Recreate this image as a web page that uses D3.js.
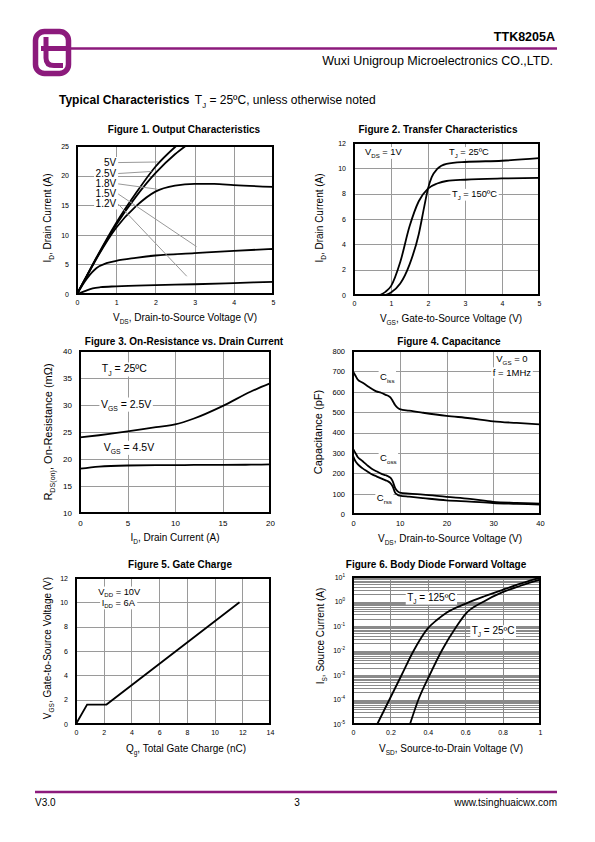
<!DOCTYPE html>
<html><head><meta charset="utf-8">
<script src="https://cdn.jsdelivr.net/npm/d3@7"></script>
<style>body{margin:0;background:#fff}svg{display:block}</style>
</head><body>
<script>
// ---------------- DATA ----------------
const fig1Series = ["5V","2.5V","1.8V","1.5V","1.2V"];
const fig1_5V  = [[0,0],[0.25,3.1],[0.5,6.2],[1,12],[1.5,17],[2,21.5],[2.53,25]];
const fig1_2V5 = [[0,0],[0.25,3.05],[0.5,6.1],[1,11.7],[1.5,16.4],[2,20.4],[2.5,23.6],[2.77,25]];
const fig1_1V8 = [[0,0],[0.25,3],[0.5,6],[1,11.2],[1.5,14.8],[2,17.3],[2.5,18.3],[3,18.6],[3.5,18.6],[4,18.4],[5,18.1]];
const fig1_1V5 = [[0,0],[0.25,2.6],[0.5,4.4],[0.75,5.2],[1,5.6],[1.5,6.1],[2,6.5],[3,6.9],[4,7.3],[5,7.6]];
const fig1_1V2 = [[0,0],[0.2,0.5],[0.4,0.95],[0.6,1.15],[1,1.3],[2,1.5],[3,1.65],[4,1.85],[5,2.05]];
const fig1XTicks = [0,1,2,3,4,5];
const fig1YTicks = [0,5,10,15,20,25];

const fig2_25C  = [[0.85,0],[1,0.2],[1.25,0.9],[1.5,2.4],[1.75,4.8],[1.9,7],[2,8.4],[2.1,9.3],[2.25,9.95],[2.5,10.35],[3,10.5],[4,10.6],[5,10.8]];
const fig2_150C = [[0.7,0],[0.85,0.25],[1,0.7],[1.25,2.6],[1.5,5.4],[1.75,7.4],[2,8.4],[2.25,8.8],[2.5,9.0],[3,9.1],[4,9.2],[5,9.25]];
const fig2XTicks = [0,1,2,3,4,5];
const fig2YTicks = [0,2,4,6,8,10,12];

const fig3Id    = [0,2,5,8,10,12,15,18,20];
const fig3_2V5  = [24.0,24.4,25.1,25.9,26.4,27.5,29.8,32.5,34.0];
const fig3_4V5  = [18.2,18.6,18.8,18.85,18.85,18.9,18.9,18.95,19.0];
const fig3XTicks = [0,5,10,15,20];
const fig3YTicks = [10,15,20,25,30,35,40];

const fig4Vds  = [0,0.5,1,2,3,4,5,6,7,7.5,8,8.5,9,9.5,10,12,15,20,25,30,35,40];
const fig4Ciss = [700,680,660,645,630,615,602,595,585,580,572,555,535,522,515,507,497,482,470,455,447,440];
const fig4Coss = [320,300,280,260,240,222,210,198,190,185,178,160,128,112,105,100,95,84,74,60,55,51];
const fig4Crss = [285,260,245,225,210,195,185,175,165,160,152,135,105,95,90,85,78,67,61,54,50,46];
const fig4XTicks = [0,10,20,30,40];
const fig4YTicks = [0,100,200,300,400,500,600,700,800];

const fig5Qg  = [0,0.8,2.2,11.8];
const fig5Vgs = [0,1.6,1.6,10];
const fig5XTicks = [0,2,4,6,8,10,12,14];
const fig5YTicks = [0,2,4,6,8,10,12];

const fig6_125C = [[0.13,1e-5],[0.195,1e-4],[0.26,1e-3],[0.325,1e-2],[0.4,0.08],[0.45,0.18],[0.5,0.35],[0.6,0.8],[0.7,1.6],[0.8,3],[0.9,5.5],[1.0,9.5]];
const fig6_25C  = [[0.305,1e-5],[0.35,1e-4],[0.41,1e-3],[0.475,1e-2],[0.555,0.1],[0.6,0.3],[0.7,1.0],[0.8,2.4],[0.9,4.5],[1.0,7.8]];
const fig6XTicks = [0,0.2,0.4,0.6,0.8,1];
const fig6YExp = [1,0,-1,-2,-3,-4,-5];

// ---------------- SETUP ----------------
const PURPLE = "#8c1a7c";
const FONT = "'Liberation Sans', Arial, Helvetica, sans-serif";
const svg = d3.select("body").append("svg").attr("width",595).attr("height",842)
  .style("font-family",FONT);
svg.append("rect").attr("width",595).attr("height",842).attr("fill","#fff");

function rich(parent, x, y, parts, size, opts={}) {
  const t = parent.append("text").attr("x",x).attr("y",y).attr("font-size",size)
    .attr("fill","#000").attr("text-anchor",opts.anchor||"start");
  if (opts.bold) t.attr("font-weight","bold");
  let shift = 0;
  parts.forEach(p => {
    const str = typeof p === "string" ? p : p[0];
    const kind = typeof p === "string" ? null : p[1];
    const target = kind==="sub" ? size*0.3 : kind==="sup" ? -size*0.42 : 0;
    const ts = t.append("tspan").text(str);
    if (target-shift !== 0) ts.attr("dy", target-shift);
    shift = target;
    if (kind) ts.attr("font-size", size*0.65);
  });
  return t;
}
function boxed(parent, x, y, parts, size, opts={}) {
  const t = rich(parent, x, y, parts, size, opts);
  const b = t.node().getBBox();
  parent.insert("rect", () => t.node()).attr("x",b.x-1.5).attr("y",b.y).attr("width",b.width+3)
    .attr("height",b.height).attr("fill","#fff");
  return t;
}

function makePlot(o) {
  const x = d3.scaleLinear().domain(o.xd).range([o.L,o.R]);
  const y = (o.log ? d3.scaleLog() : d3.scaleLinear()).domain(o.yd).range([o.B,o.T]);
  const g = svg.append("g");
  const W = o.R-o.L, H = o.B-o.T;
  // grid
  const gx = g.append("g").attr("transform",`translate(0,${o.B})`)
    .call(d3.axisBottom(x).tickValues(o.xGrid).tickSize(-H).tickFormat(""));
  const gy = g.append("g").attr("transform",`translate(${o.L},0)`)
    .call(d3.axisLeft(y).tickValues(o.yGrid).tickSize(-W).tickFormat(""));
  [gx,gy].forEach(a => { a.select(".domain").remove();
    a.selectAll("line").attr("stroke",o.gridColor||"#9a9a9a").attr("stroke-width",1)
      .attr("shape-rendering","crispEdges"); });
  // tick labels
  const tfs = o.tfs || 7;
  const ax = g.append("g").attr("transform",`translate(0,${o.B})`)
    .call(d3.axisBottom(x).tickValues(o.xTicks).tickSize(0).tickPadding(o.xpad||6.5).tickFormat(d=>String(d)));
  ax.select(".domain").remove();
  ax.attr("font-size",tfs).attr("font-family",FONT);
  if (!o.log) {
    const ay = g.append("g").attr("transform",`translate(${o.L},0)`)
      .call(d3.axisLeft(y).tickValues(o.yTicks).tickSize(0).tickPadding(8).tickFormat(d=>String(d)));
    ay.select(".domain").remove();
    ay.attr("font-size",tfs).attr("font-family",FONT);
  }
  const plot = g.append("g");
  // frame
  g.append("rect").attr("x",o.L).attr("y",o.T).attr("width",W).attr("height",H)
    .attr("fill","none").attr("stroke","#000").attr("stroke-width",2);
  // title
  rich(g, o.titleX, o.T-o.titleGap, [o.title], 10, {anchor:"middle", bold:true});
  // x label
  rich(g, o.xlX, o.B+o.xlGap, o.xl, 10, {anchor:"middle"});
  // y label
  const yg = g.append("g").attr("transform",`translate(${o.ylX},${o.ylY}) rotate(-90)`);
  rich(yg, 0, (o.ylfs||10)*0.35, o.yl, o.ylfs||10, {anchor:"middle"});
  return {g: plot, x, y, top: g};
}
function curve(p, data, xf, yf) {
  p.g.append("path").datum(data).attr("fill","none").attr("stroke","#000").attr("stroke-width",1.8)
    .attr("stroke-linejoin","round")
    .attr("d", d3.line().x(d=>p.x(xf(d))).y(d=>p.y(yf(d))).curve(d3.curveMonotoneX));
}

// ---------------- HEADER / FOOTER ----------------
const hd = svg.append("g");
hd.append("rect").attr("x",35.5).attr("y",31.5).attr("width",33).attr("height",42).attr("rx",9)
  .attr("fill","none").attr("stroke",PURPLE).attr("stroke-width",5.5);
hd.append("path").attr("d","M46,37 V58 Q46,65.5 54,65.5 H63").attr("fill","none")
  .attr("stroke",PURPLE).attr("stroke-width",5);
hd.append("line").attr("x1",41).attr("x2",71).attr("y1",48.5).attr("y2",48.5)
  .attr("stroke",PURPLE).attr("stroke-width",5);
hd.append("line").attr("x1",68).attr("x2",557).attr("y1",48.5).attr("y2",48.5)
  .attr("stroke",PURPLE).attr("stroke-width",2.5);
rich(hd, 555, 41, ["TTK8205A"], 12.5, {anchor:"end", bold:true});
rich(hd, 553, 65, ["Wuxi Unigroup Microelectronics CO.,LTD."], 12.5, {anchor:"end"});
const tc = rich(hd, 59, 104, ["Typical Characteristics"], 12, {bold:true});
const tcEnd = tc.node().getBBox(); 
rich(hd, tcEnd.x+tcEnd.width+5, 104, ["T",["J","sub"]," = 25ºC, unless otherwise noted"], 12);

hd.append("line").attr("x1",35).attr("x2",557).attr("y1",792).attr("y2",792)
  .attr("stroke",PURPLE).attr("stroke-width",2.5);
rich(hd, 35, 806, ["V3.0"], 10);
rich(hd, 297, 806, ["3"], 10, {anchor:"middle"});
rich(hd, 557, 806, ["www.tsinghuaicwx.com"], 10, {anchor:"end"});

// ---------------- FIGURE 1 ----------------
const p1 = makePlot({L:77,R:273,T:146,B:294,xd:[0,5],yd:[0,25],
  xGrid:[1,2,3,4],yGrid:[5,10,15,20],xTicks:fig1XTicks,yTicks:fig1YTicks,
  title:"Figure 1. Output Characteristics",titleX:184,titleGap:13,
  xl:["V",["DS","sub"],", Drain-to-Source Voltage (V)"],xlX:185,xlGap:27,
  yl:["I",["D","sub"],", Drain Current (A)"],ylX:47,ylY:218});
const fig1Data = [fig1_5V,fig1_2V5,fig1_1V8,fig1_1V5,fig1_1V2];
fig1Data.forEach(s => curve(p1, s, d=>d[0], d=>d[1]));
const f1Lab = [[22.2,2.07,22.3],[20.35,1.9,20.7],[18.6,2.05,17.7],[16.9,3.05,8.0],[15.2,2.8,3.0]];
fig1Series.forEach((s,i) => {
  const [ly, ex, ey] = f1Lab[i];
  p1.g.append("line").attr("x1",p1.x(1.05)).attr("y1",p1.y(ly)).attr("x2",p1.x(ex)).attr("y2",p1.y(ey))
    .attr("stroke","#999").attr("stroke-width",1);
  boxed(p1.g, p1.x(1.0), p1.y(ly)+3.4, [s], 10, {anchor:"end"});
});

// ---------------- FIGURE 2 ----------------
const p2 = makePlot({L:354,R:539,T:143,B:295,xd:[0,5],yd:[0,12],
  xGrid:[1,2,3,4],yGrid:[2,4,6,8,10],xTicks:fig2XTicks,yTicks:fig2YTicks,
  title:"Figure 2. Transfer Characteristics",titleX:438,titleGap:10,
  xl:["V",["GS","sub"],", Gate-to-Source Voltage (V)"],xlX:451,xlGap:27,
  yl:["I",["D","sub"],", Drain Current (A)"],ylX:319,ylY:218});
curve(p2, fig2_25C, d=>d[0], d=>d[1]);
curve(p2, fig2_150C, d=>d[0], d=>d[1]);
boxed(p2.g, p2.x(0.3), p2.y(11.3)+3.2, ["V",["DS","sub"]," = 1V"], 9.3);
boxed(p2.g, p2.x(2.57), p2.y(11.3)+3.2, ["T",["J","sub"]," = 25ºC"], 9.3);
boxed(p2.g, p2.x(2.65), p2.y(8.0)+3.2, ["T",["J","sub"]," = 150ºC"], 9.3);

// ---------------- FIGURE 3 ----------------
const p3 = makePlot({L:80,R:270,T:351,B:513,xd:[0,20],yd:[10,40],
  xGrid:[5,10,15],yGrid:[15,20,25,30,35],xTicks:fig3XTicks,yTicks:fig3YTicks,tfs:8,xpad:7,
  title:"Figure 3. On-Resistance vs. Drain Current",titleX:184,titleGap:6,
  xl:["I",["D","sub"],", Drain Current (A)"],xlX:175,xlGap:28,
  yl:["R",["DS(on)","sub"],", On-Resistance (mΩ)"],ylX:48,ylY:432,ylfs:11});
curve(p3, fig3Id.map((v,i)=>[v,fig3_2V5[i]]), d=>d[0], d=>d[1]);
curve(p3, fig3Id.map((v,i)=>[v,fig3_4V5[i]]), d=>d[0], d=>d[1]);
boxed(p3.g, p3.x(2.3), p3.y(36.7)+3.6, ["T",["J","sub"]," = 25ºC"], 10.5);
boxed(p3.g, p3.x(2.2), p3.y(30.2)+3.6, ["V",["GS","sub"]," = 2.5V"], 10.5);
boxed(p3.g, p3.x(2.5), p3.y(22.2)+3.6, ["V",["GS","sub"]," = 4.5V"], 10.5);

// ---------------- FIGURE 4 ----------------
const p4 = makePlot({L:353,R:540,T:351,B:514,xd:[0,40],yd:[0,800],
  xGrid:[10,20,30],yGrid:[100,200,300,400,500,600,700],xTicks:fig4XTicks,yTicks:fig4YTicks,tfs:7.5,xpad:7,
  title:"Figure 4. Capacitance",titleX:449,titleGap:6,
  xl:["V",["DS","sub"],", Drain-to-Source Voltage (V)"],xlX:450,xlGap:28,
  yl:["Capacitance (pF)"],ylX:318,ylY:432,ylfs:11});
[fig4Ciss,fig4Coss,fig4Crss].forEach(s => curve(p4, fig4Vds.map((v,i)=>[v,s[i]]), d=>d[0], d=>d[1]));
boxed(p4.g, p4.x(5.8), p4.y(675)+3.3, ["C",["iss","sub"]], 9.5);
boxed(p4.g, p4.x(5.8), p4.y(275)+3.3, ["C",["oss","sub"]], 9.5);
boxed(p4.g, p4.x(5.1), p4.y(79)+3.3, ["C",["rss","sub"]], 9.5);
boxed(p4.g, p4.x(34), p4.y(760)+3.3, ["V",["GS","sub"]," = 0"], 9.5, {anchor:"middle"});
boxed(p4.g, p4.x(34), p4.y(692)+3.3, ["f = 1MHz"], 9.5, {anchor:"middle"});

// ---------------- FIGURE 5 ----------------
const p5 = makePlot({L:76,R:270,T:578,B:724,xd:[0,14],yd:[0,12],
  xGrid:[2,4,6,8,10,12],yGrid:[2,4,6,8,10],xTicks:fig5XTicks,yTicks:fig5YTicks,
  title:"Figure 5. Gate Charge",titleX:180,titleGap:10,
  xl:["Q",["g","sub"],", Total Gate Charge (nC)"],xlX:186,xlGap:28,
  yl:["V",["GS","sub"],", Gate-to-Source Voltage (V)"],ylX:47,ylY:648});
p5.g.append("path").datum(fig5Qg.map((v,i)=>[v,fig5Vgs[i]])).attr("fill","none").attr("stroke","#000")
  .attr("stroke-width",1.8).attr("d", d3.line().x(d=>p5.x(d[0])).y(d=>p5.y(d[1])));
boxed(p5.g, p5.x(1.6), p5.y(10.9)+3.2, ["V",["DD","sub"]," = 10V"], 9.3);
boxed(p5.g, p5.x(1.85), p5.y(10.0)+3.2, ["I",["DD","sub"]," = 6A"], 9.3);

// ---------------- FIGURE 6 ----------------
const fig6Grid = [];
for (let k=-5;k<=0;k++) for (let m=1;m<=9;m++) { const v=m*Math.pow(10,k); if (v>1e-5) fig6Grid.push(v); }
const p6 = makePlot({L:353,R:540,T:577,B:724,xd:[0,1],yd:[1e-5,10],log:true,gridColor:"#8a8a8a",
  xGrid:[0.2,0.4,0.6,0.8],yGrid:fig6Grid,xTicks:fig6XTicks,
  title:"Figure 6. Body Diode Forward Voltage",titleX:436,titleGap:9,
  xl:["V",["SD","sub"],", Source-to-Drain Voltage (V)"],xlX:451,xlGap:28,
  yl:["I",["S","sub"],", Source Current (A)"],ylX:320,ylY:636});
fig6YExp.forEach(e => {
  rich(p6.top, 345, p6.y(Math.pow(10,e))+2.5, ["10",[String(e),"sup"]], 7, {anchor:"end"});
});
curve(p6, fig6_125C, d=>d[0], d=>d[1]);
curve(p6, fig6_25C, d=>d[0], d=>d[1]);
boxed(p6.g, p6.x(0.29), p6.y(1.5)+3.4, ["T",["J","sub"]," = 125ºC"], 10);
boxed(p6.g, p6.x(0.635), p6.y(0.063)+3.4, ["T",["J","sub"]," = 25ºC"], 10);
</script>
</body></html>
